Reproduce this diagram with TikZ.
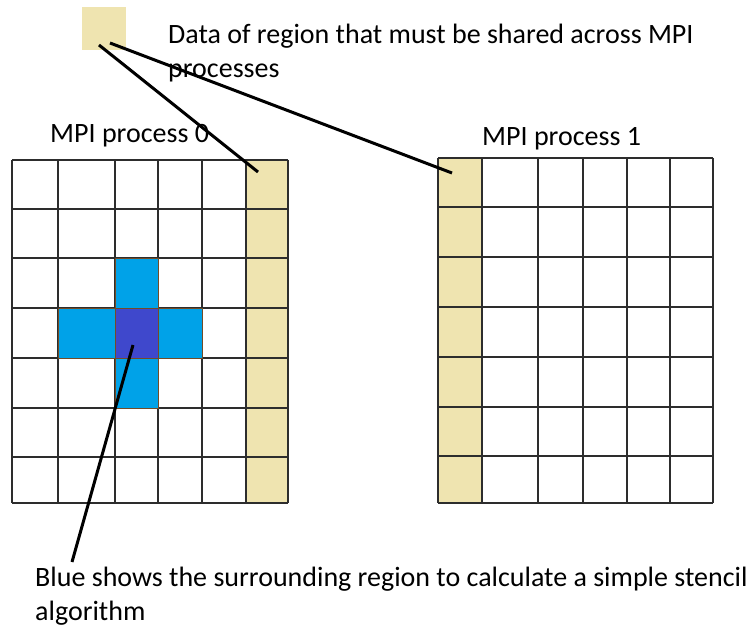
\documentclass[tikz,border=0pt]{standalone}
\usepackage{fontspec}
\setmainfont{Carlito}
\usetikzlibrary{positioning}
\definecolor{sharedtan}{RGB}{239,228,176}
\definecolor{haloblue}{RGB}{0,162,232}
\definecolor{centreblue}{RGB}{63,72,204}
\definecolor{gridgray}{RGB}{45,45,45}

\begin{document}
\begin{tikzpicture}[
    x=1pt, y=-1pt,
    font=\fontsize{28}{34}\selectfont,
    % Styles
    gridline/.style={draw=gridgray, line width=2.6pt},
    cellbox/.style={fill=#1, inner sep=0pt, outer sep=0pt},
    halo/.style={cellbox=#1, draw=brown!60!black, line width=0.5pt, minimum width=43pt, minimum height=50pt},
    caption/.style={anchor=base west, inner sep=0pt, align=left},
    pointer/.style={draw=black, line width=3pt}
]

    \useasboundingbox[fill=white] (0,0) rectangle (754,628);

    % Legend square
    \node (key) [cellbox=sharedtan, minimum width=44pt, minimum height=43pt] at (103.5,28.5) {};
    % (base of a two-line caption sits on its last line)
    \node (keytext) [caption] at (168,78) {Data of region that must be shared across MPI\\processes};

    % Process titles
    \node (title0) [caption] at (50,143) {MPI process 0};
    \node (title1) [caption] at (482,146) {MPI process 1};

    % Shared columns
    \node (shared0) [cellbox=sharedtan, minimum width=42pt, minimum height=343pt] at (267,331.5) {};
    \node (shared1) [cellbox=sharedtan, minimum width=44pt, minimum height=345pt] at (460,330.5) {};

    % Grid of process 0
    \foreach \gx in {12,58,115,158,202,246,288}
        \draw [gridline] (\gx,160) -- (\gx,503);
    \foreach \gy in {160,209,258,308,358,408,457,503}
        \draw [gridline] (12,\gy) -- (288,\gy);

    % Grid of process 1
    \foreach \gx in {438,482,538,583,627,670,713}
        \draw [gridline] (\gx,158) -- (\gx,503);
    \foreach \gy in {158,207,257,307,357,407,456,503}
        \draw [gridline] (438,\gy) -- (713,\gy);

    % Stencil
    \node (up) [halo=haloblue] at (136.5,283) {};
    \node (left) [halo=haloblue, minimum width=57pt] at (86.5,333) {};
    \node (right) [halo=haloblue, minimum width=44pt] at (180,333) {};
    \node (down) [halo=haloblue] at (136.5,383) {};
    \node (centre) [halo=centreblue] at (136.5,333) {};

    % Bottom note
    \node (note) [caption] at (35,620) {Blue shows the surrounding region to calculate a simple stencil\\algorithm};
    \coordinate (notetip) at (72,562);

    % Pointers
    \draw [pointer] ([xshift=-4.5pt,yshift=-16.5pt]key.center) -- ([xshift=-9pt,yshift=-12pt]shared0.north);
    \draw [pointer] ([xshift=6.5pt,yshift=-14.5pt]key.center) -- ([xshift=-8pt,yshift=-15pt]shared1.north);
    \draw [pointer] ([xshift=-3.5pt,yshift=-12pt]centre.center) -- (notetip);

\end{tikzpicture}
\end{document}
